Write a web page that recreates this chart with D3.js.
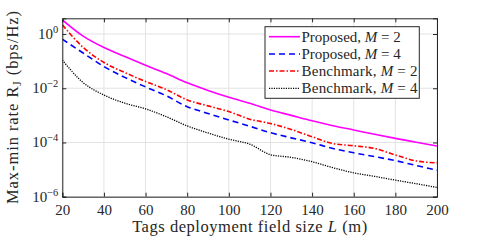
<!DOCTYPE html>
<html><head><meta charset="utf-8">
<script src="https://cdn.jsdelivr.net/npm/d3@7"></script>
<style>body{margin:0;background:#fff}svg{display:block}text{font-family:"Liberation Serif","DejaVu Serif",serif;fill:#262626}</style>
</head><body><div id="c"></div>
<script>
const L = [20,30,40,50,60,70,80,90,100,110,120,130,140,150,160,170,180,190,200];
// log10 of rate values
const propM2 = [0.52,-0.08,-0.50,-0.83,-1.15,-1.46,-1.80,-2.08,-2.33,-2.55,-2.80,-3.00,-3.20,-3.38,-3.54,-3.70,-3.85,-3.99,-4.13];
const propM4 = [-0.19,-0.70,-1.20,-1.60,-1.95,-2.28,-2.68,-2.93,-3.17,-3.40,-3.64,-3.83,-4.01,-4.22,-4.38,-4.52,-4.67,-4.85,-5.02];
const benchM2 = [0.34,-0.49,-1.05,-1.42,-1.75,-2.05,-2.43,-2.65,-2.86,-3.14,-3.30,-3.52,-3.79,-4.04,-4.12,-4.22,-4.46,-4.68,-4.75];
const benchM4 = [-0.96,-1.79,-2.25,-2.55,-2.76,-3.05,-3.39,-3.65,-3.88,-4.06,-4.45,-4.55,-4.71,-4.93,-5.12,-5.25,-5.39,-5.52,-5.66];
const xTicks = [20,40,60,80,100,120,140,160,180,200];
const yTicks = [0,-2,-4,-6];
const seriesNames = ["Proposed","Proposed","Benchmark","Benchmark"];
const seriesM = [2,4,2,4];

const W=482,H=241, m={l:62.3,t:18.3,r:482-437,b:241-196.7};
const svg=d3.select("#c").append("svg").attr("width",W).attr("height",H);
const x=d3.scaleLinear().domain([20,200]).range([m.l,W-m.r]);
const y=d3.scaleLog().domain([1e-6,Math.pow(10,0.58)]).range([H-m.b,m.t]);
const g=svg.append("g");
// grid
g.selectAll(".gx").data(xTicks).join("line").attr("x1",d=>x(d)).attr("x2",d=>x(d)).attr("y1",m.t).attr("y2",H-m.b).attr("stroke","#e3e3e3").attr("stroke-width",1);
g.selectAll(".gy").data(yTicks).join("line").attr("y1",d=>y(10**d)).attr("y2",d=>y(10**d)).attr("x1",m.l).attr("x2",W-m.r).attr("stroke","#e3e3e3").attr("stroke-width",1);

const series=[
 {v:propM2,c:"#ff00ff",dash:null},
 {v:propM4,c:"#0000ff",dash:"6,4"},
 {v:benchM2,c:"#ff0000",dash:"5,2,1.5,2"},
 {v:benchM4,c:"#000000",dash:"1.2,1.2"}];
const line=d3.line().x((d,i)=>x(L[i])).y(d=>y(10**d)).curve(d3.curveMonotoneX);
svg.append("clipPath").attr("id","cp").append("rect").attr("x",m.l).attr("y",m.t).attr("width",W-m.r-m.l).attr("height",H-m.b-m.t);
series.forEach(s=>{
  g.append("path").attr("d",line(s.v)).attr("fill","none").attr("stroke",s.c).attr("stroke-width",s.c==="#000000"?1.3:1.6).attr("stroke-dasharray",s.dash).attr("clip-path","url(#cp)");
});
// axes
const ax=d3.axisBottom(x).tickValues(xTicks).tickSize(-4).tickPadding(8).tickFormat(d3.format("d"));
const axT=d3.axisTop(x).tickValues(xTicks).tickSize(-4).tickFormat("");
const ay=d3.axisLeft(y).tickValues(yTicks.map(d=>10**d)).tickSize(-4).tickFormat("");
const ayR=d3.axisRight(y).tickValues(yTicks.map(d=>10**d)).tickSize(-4).tickFormat("");
function style(sel){sel.select(".domain").attr("stroke","#262626").attr("stroke-width",1);sel.selectAll(".tick line").attr("stroke","#262626");sel.selectAll("text").attr("font-size",15).attr("fill","#262626").attr("font-family","Liberation Serif");}
svg.append("g").attr("transform",`translate(0,${H-m.b})`).call(ax).call(style);
svg.append("g").attr("transform",`translate(0,${m.t})`).call(axT).call(style);
svg.append("g").attr("transform",`translate(${m.l},0)`).call(ay).call(style);
svg.append("g").attr("transform",`translate(${W-m.r},0)`).call(ayR).call(style);
// y tick labels as 10^n
yTicks.forEach(d=>{
  const t=svg.append("text").attr("x",m.l-4).attr("y",y(10**d)+5).attr("text-anchor","end").attr("font-size",15);
  t.append("tspan").text("10");
  t.append("tspan").attr("dy",-6).attr("font-size",10.5).text(d===0?"0":"\u2212"+(-d));
});
// axis labels
const xl=svg.append("text").attr("x",(m.l+W-m.r)/2).attr("y",232).attr("text-anchor","middle").attr("font-size",16.5)
  .attr("textLength",235).attr("lengthAdjust","spacing");
xl.append("tspan").text("Tags deployment field size ");
xl.append("tspan").attr("font-style","italic").text("L");
xl.append("tspan").text(" (m)");
const yl=svg.append("text").attr("transform",`translate(18,${(m.t+H-m.b)/2}) rotate(-90)`).attr("text-anchor","middle").attr("font-size",16.5)
  .attr("textLength",193).attr("lengthAdjust","spacing");
yl.append("tspan").text("Max-min rate R");
yl.append("tspan").attr("dy",3).attr("font-size",11.5).text("J");
yl.append("tspan").attr("dy",-3).text(" (bps/Hz)");
// legend
const lg=svg.append("g");
lg.append("rect").attr("x",265).attr("y",26.7).attr("width",154.3).attr("height",71.6).attr("fill","#fff").attr("stroke","#262626").attr("stroke-width",1);
const rows=[36.7,54,71,88.3];
series.forEach((s,i)=>{
  lg.append("line").attr("x1",269).attr("x2",300).attr("y1",rows[i]).attr("y2",rows[i]).attr("stroke",s.c).attr("stroke-width",s.c==="#000000"?1.3:1.6).attr("stroke-dasharray",s.dash);
  const t=lg.append("text").attr("x",301.5).attr("y",rows[i]+5).attr("font-size",15).attr("textLength",i>=2?116:null).attr("lengthAdjust","spacing");
  t.append("tspan").text(seriesNames[i]+", ");
  t.append("tspan").attr("font-style","italic").text("M");
  t.append("tspan").text(" = "+seriesM[i]);
});
</script></body></html>
